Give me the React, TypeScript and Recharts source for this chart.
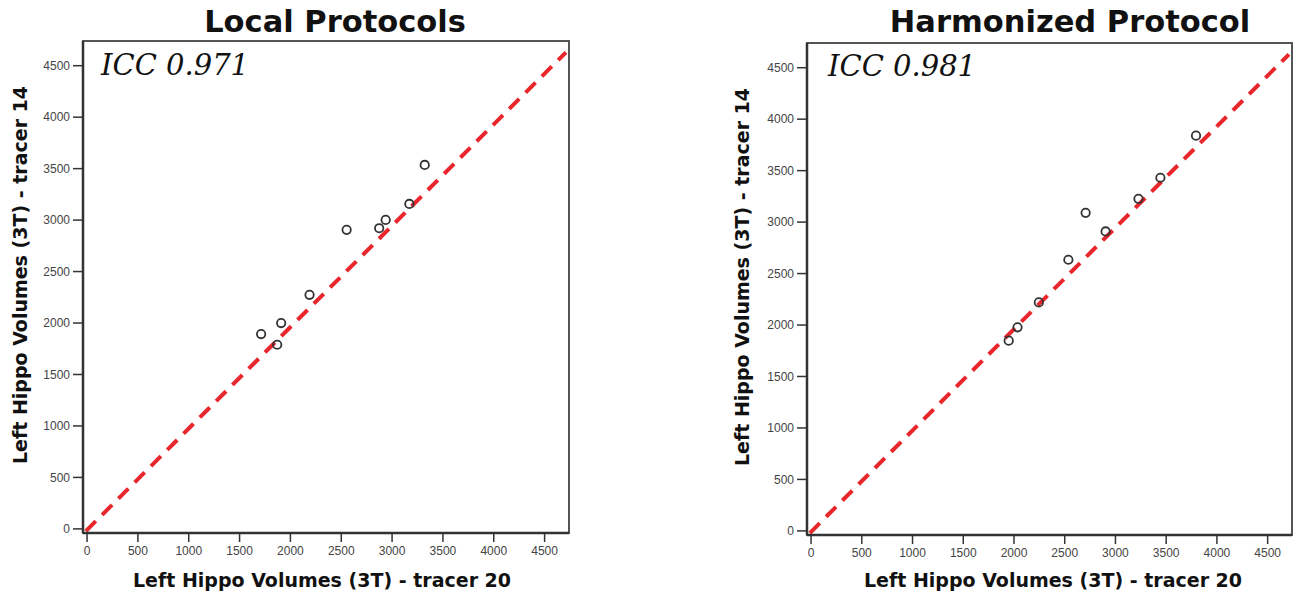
import React from "react";
import {
  ScatterChart,
  Scatter,
  XAxis,
  YAxis,
  ReferenceLine,
  ReferenceArea,
} from "recharts";

// ---- data ----
const axisTicks = [0, 500, 1000, 1500, 2000, 2500, 3000, 3500, 4000, 4500];
const axisDomain: [number, number] = [-40, 4740];

const localTracer20 = [1712, 1870, 1909, 2188, 2553, 2873, 2937, 3170, 3321];
const localTracer14 = [1893, 1789, 2000, 2274, 2905, 2921, 3002, 3157, 3536];

const harmTracer20 = [1948, 2035, 2245, 2536, 2706, 2903, 3227, 3443, 3794];
const harmTracer14 = [1848, 1978, 2220, 2634, 3090, 2909, 3226, 3431, 3840];

const lineStart = { x: -12, y: -21 };
const lineEnd = { x: 4710, y: 4630 };

const titles = ["Local Protocols", "Harmonized Protocol"];
const iccLabels = ["ICC 0.971", "ICC 0.981"];
const xTitle = "Left Hippo Volumes (3T) - tracer 20";
const yTitle = "Left Hippo Volumes (3T) - tracer 14";

const toPoints = (xs: number[], ys: number[]) =>
  xs.map((x, i) => ({ x, y: ys[i] }));

const Ring = (props: any) => (
  <circle
    cx={props.cx}
    cy={props.cy}
    r={4.2}
    fill="none"
    stroke="#333"
    strokeWidth={1.8}
  />
);

const tickStyle = {
  fontFamily: "'Liberation Sans', Arial, sans-serif",
  fontSize: 12,
  fill: "#444",
};

type PanelProps = {
  left: number;
  top: number;
  width: number;
  height: number;
  yAxisWidth: number;
  marginTop: number;
  marginRight: number;
  xAxisHeight: number;
  data: { x: number; y: number }[];
};

function Panel(p: PanelProps) {
  return (
    <div style={{ position: "absolute", left: p.left, top: p.top }}>
      <ScatterChart
        width={p.width}
        height={p.height}
        margin={{ top: p.marginTop, right: p.marginRight, bottom: 0, left: 0 }}
      >
        <ReferenceArea
          x1={axisDomain[0]}
          x2={axisDomain[1]}
          y1={axisDomain[0]}
          y2={axisDomain[1]}
          fill="none"
          stroke="#555"
          strokeWidth={2}
          fillOpacity={0}
        />
        <XAxis
          type="number"
          dataKey="x"
          domain={axisDomain}
          ticks={axisTicks}
          interval={0}
          height={p.xAxisHeight}
          tickSize={9}
          tickMargin={4}
          tick={tickStyle}
          axisLine={{ stroke: "#333", strokeWidth: 2.5 }}
          tickLine={{ stroke: "#333", strokeWidth: 1.5 }}
        />
        <YAxis
          type="number"
          dataKey="y"
          domain={axisDomain}
          ticks={axisTicks}
          interval={0}
          width={p.yAxisWidth}
          tickSize={10}
          tickMargin={3}
          tick={tickStyle}
          axisLine={{ stroke: "#333", strokeWidth: 2.5 }}
          tickLine={{ stroke: "#333", strokeWidth: 1.5 }}
        />
        <Scatter
          data={p.data}
          shape={Ring}
          isAnimationActive={false}
        />
        <ReferenceLine
          segment={[lineStart, lineEnd]}
          stroke="#e8262b"
          strokeWidth={4}
          strokeDasharray="14 9"
        />
      </ScatterChart>
    </div>
  );
}

const titleFont = "'DejaVu Sans', Verdana, sans-serif";

function TextAt(props: {
  x: number;
  y: number;
  text: string;
  size: number;
  rotate?: boolean;
  italic?: boolean;
  serif?: boolean;
  bold?: boolean;
  anchor?: "center" | "left";
}) {
  const transform =
    (props.anchor === "left" ? "translate(0,-50%)" : "translate(-50%,-50%)") +
    (props.rotate ? " rotate(-90deg)" : "");
  return (
    <div
      style={{
        position: "absolute",
        left: props.x,
        top: props.y,
        transform,
        whiteSpace: "nowrap",
        fontFamily: props.serif ? "'DejaVu Serif', serif" : titleFont,
        fontStyle: props.italic ? "italic" : "normal",
        fontWeight: props.bold ? "bold" : "normal",
        fontSize: props.size,
        lineHeight: 1,
        color: "#111",
      }}
    >
      {props.text}
    </div>
  );
}

export default function App() {
  return (
    <div
      style={{
        position: "absolute",
        left: 0,
        top: 0,
        width: 1295,
        height: 596,
        background: "#fff",
        overflow: "hidden",
      }}
    >
      <Panel
        left={0}
        top={0}
        width={600}
        height={596}
        yAxisWidth={83}
        marginTop={41}
        marginRight={31}
        xAxisHeight={63}
        data={toPoints(localTracer20, localTracer14)}
      />
      <Panel
        left={700}
        top={0}
        width={595}
        height={596}
        yAxisWidth={107}
        marginTop={43}
        marginRight={3}
        xAxisHeight={61}
        data={toPoints(harmTracer20, harmTracer14)}
      />
      <TextAt x={335} y={22} text={titles[0]} size={30.5} bold />
      <TextAt x={1070} y={22} text={titles[1]} size={30.5} bold />
      <TextAt x={101} y={65} text={iccLabels[0]} size={29} italic serif anchor="left" />
      <TextAt x={828} y={66} text={iccLabels[1]} size={29} italic serif anchor="left" />
      <TextAt x={322} y={580} text={xTitle} size={19} bold />
      <TextAt x={1053} y={580} text={xTitle} size={19} bold />
      <TextAt x={20} y={275} text={yTitle} size={19} bold rotate />
      <TextAt x={742} y={277} text={yTitle} size={19} bold rotate />
    </div>
  );
}
